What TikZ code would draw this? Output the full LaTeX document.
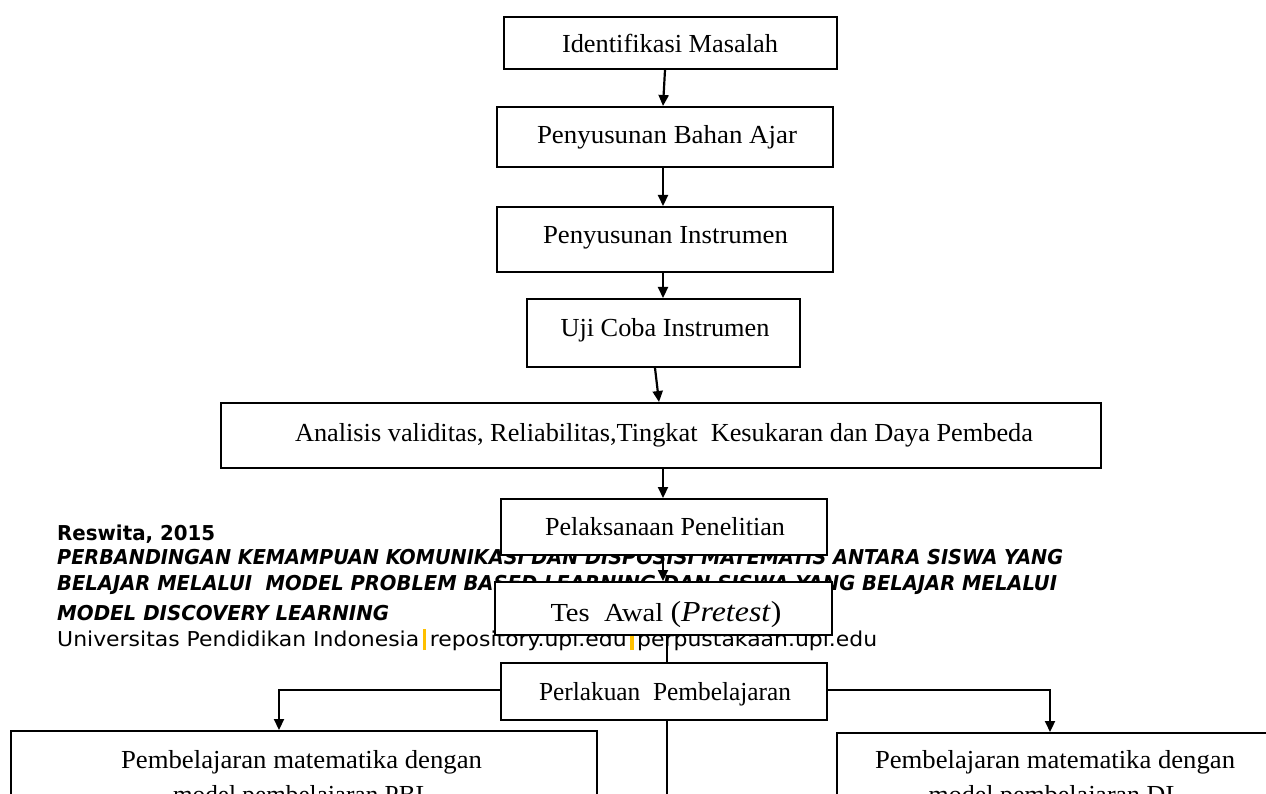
\documentclass[tikz,border=0pt]{standalone}
\usepackage{fontspec}
\setmainfont{Liberation Serif}
\newfontfamily\footfont{DejaVu Sans}
\usepackage{graphicx}
\usetikzlibrary{arrows.meta}
\definecolor{barorange}{HTML}{FFC000}
\newsavebox\fitbx
\newcommand\fitw[2]{\sbox\fitbx{#2}\pgfmathsetmacro\fitf{#1/\the\wd\fitbx}\scalebox{\fitf}[1]{\usebox\fitbx}}
\newcommand\obar{\textcolor{barorange}{\rule[-4pt]{3pt}{21pt}}}
\begin{document}
\begin{tikzpicture}[x=1pt,y=-1pt,
  box/.style={draw, line width=2pt, fill=white, inner sep=0pt, rectangle},
  arr/.style={line width=2.2pt, -{Triangle[length=11pt,width=10pt]}},
  plain/.style={line width=2.2pt},
  btxt/.style={anchor=base, inner sep=0pt, font=\fontsize{26}{30}\selectfont},
  ftxt/.style={anchor=base west, inner sep=0pt, font=\footfont\fontsize{20.5}{24}\selectfont}]
\useasboundingbox (0,0) rectangle (1266,794);
\fill[white] (0,0) rectangle (1266,794);

% footer text (behind the boxes)
\node[ftxt] (f1) at (57,540) {\fitw{158}{\bfseries Reswita, 2015}};
\node[ftxt] (f2) at (57,564) {\fitw{1006}{\bfseries\itshape PERBANDINGAN KEMAMPUAN KOMUNIKASI DAN DISPOSISI MATEMATIS ANTARA SISWA YANG}};
\node[ftxt] (f3) at (57,590) {\fitw{1000}{\bfseries\itshape BELAJAR MELALUI\ \ MODEL PROBLEM BASED LEARNING DAN SISWA YANG BELAJAR MELALUI}};
\node[ftxt] (f4) at (57,620) {\fitw{332}{\bfseries\itshape MODEL DISCOVERY LEARNING}};
\node[ftxt] (f5) at (57,646) {\fitw{820}{Universitas Pendidikan Indonesia\,\obar\,repository.upi.edu\,\obar\,perpustakaan.upi.edu}};

% boxes
\node[box, minimum width=333pt, minimum height=52pt] (b1) at (670.5,43) {};
\node[box, minimum width=336pt, minimum height=60pt] (b2) at (665,137) {};
\node[box, minimum width=336pt, minimum height=65pt] (b3) at (665,239.5) {};
\node[box, minimum width=273pt, minimum height=68pt] (b4) at (663.5,333) {};
\node[box, minimum width=880pt, minimum height=65pt] (b5) at (661,435.5) {};
\node[box, minimum width=326pt, minimum height=56pt] (b6) at (664,527) {};
\node[box, minimum width=337pt, minimum height=53pt] (b7) at (663.5,608.5) {};
\node[box, minimum width=326pt, minimum height=57pt] (b8) at (664,691.5) {};
\node[box, minimum width=586pt, minimum height=139pt] (bP) at (304,800.5) {};
\node[box, minimum width=437pt, minimum height=137pt] (bD) at (1055.5,801.5) {};

% connectors
\draw[arr] ([xshift=-5.5pt]b1.south) -- ([xshift=-2pt]b2.north);
\draw[arr] ([xshift=-2pt]b2.south) -- ([xshift=-2pt]b3.north);
\draw[arr] ([xshift=-2pt]b3.south) -- ([xshift=-0.5pt]b4.north);
\draw[arr] ([xshift=-8.5pt]b4.south) -- ([xshift=-2pt]b5.north);
\draw[arr] ([xshift=2pt]b5.south) -- ([xshift=-1pt]b6.north);
\draw[arr] ([xshift=-1pt]b6.south) -- ([xshift=-0.5pt]b7.north);
\draw[plain] ([xshift=3.5pt]b7.south) -- ([xshift=3pt]b8.north);
\draw[arr] ([yshift=1.5pt]b8.west) -| ([xshift=-25pt]bP.north);
\draw[arr] ([yshift=1.5pt]b8.east) -| ([xshift=-5.5pt]bD.north);
\coordinate (bot) at (667,800);
\draw[plain] ([xshift=3pt]b8.south) -- (bot);

% box texts
\node[btxt] (t1) at (670,53) {\fitw{216}{Identifikasi Masalah}};
\node[btxt] (t2) at (667,144) {\fitw{260}{Penyusunan Bahan Ajar}};
\node[btxt] (t3) at (665.5,244) {\fitw{245}{Penyusunan Instrumen}};
\node[btxt] (t4) at (665,336) {\fitw{209}{Uji Coba Instrumen}};
\node[btxt] (t5) at (664,441) {\fitw{738}{Analisis validitas, Reliabilitas,Tingkat\ \ Kesukaran dan Daya Pembeda}};
\node[btxt] (t6) at (665,535.7) {\fitw{240}{Pelaksanaan Penelitian}};
\node[btxt] (t7) at (666,621.7) {\fitw{231}{Tes\ \ Awal {\fontsize{29}{30}\selectfont(\textit{Pretest})}}};
\node[btxt] (t8) at (665,700) {\fitw{252}{Perlakuan\ \ Pembelajaran}};
\node[btxt] (tP1) at (301.5,768) {\fitw{361}{Pembelajaran matematika dengan}};
\node[btxt] (tP2) at (302,803) {\fitw{258}{model pembelajaran PBL}};
\node[btxt] (tD1) at (1055,768) {\fitw{360}{Pembelajaran matematika dengan}};
\node[btxt] (tD2) at (1055,803) {model pembelajaran DL};
\end{tikzpicture}
\end{document}
